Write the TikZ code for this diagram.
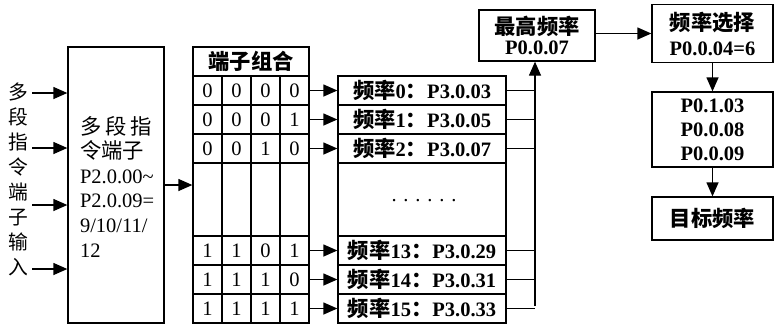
\documentclass[tikz,border=0pt]{standalone}
\usepackage{fontspec}
\setmainfont{Liberation Serif}
\newfontfamily\cjk[Scale=1.04]{Noto Sans CJK SC}
\usetikzlibrary{arrows.meta}
\newcommand{\zh}[1]{{\cjk #1}}
\begin{document}
\begin{tikzpicture}[x=1pt,y=-1pt,line width=1.3pt,
  arr/.style={-{Triangle[length=14pt,width=12pt]}},
  bx/.style={draw,line width=1.3pt,inner sep=0pt},
  bold/.style={font=\fontsize{20.5}{24}\selectfont\bfseries,align=center},
  reg/.style={font=\fontsize{20.5}{24}\selectfont},
  trow/.style={bx,minimum width=116pt,minimum height=29pt},
  frow/.style={bx,bold,minimum width=168pt,minimum height=29pt}]
\useasboundingbox (0,0) rectangle (775,325);
% left label and box
\node[inner sep=0pt,align=center,font=\fontsize{19}{25}\selectfont] (inlbl) at (18,179.5)
  {\zh{多}\\\zh{段}\\\zh{指}\\\zh{令}\\\zh{端}\\\zh{子}\\\zh{输}\\\zh{入}};
\node[bx,minimum width=96pt,minimum height=276pt] (lbox) at (116,185) {};
\node[inner sep=0pt,text width=74pt,align=left,font=\fontsize{20.5}{24.6}\selectfont] (ltext) at (117,186.5)
  {\makebox[72pt]{\zh{多}\hfill\zh{段}\hfill\zh{指}}\\\zh{令端子}\\P2.0.00\char`~\\P2.0.09=\\9/10/11/\\12};
\coordinate (in1) at (32,93);
\coordinate (in2) at (32,148);
\coordinate (in3) at (32,205);
\coordinate (in4) at (32,269);
\foreach \i in {1,2,3,4} \draw[arr] (in\i) -- (in\i -| lbox.west);
% terminal table
\node[trow,bold] (thead) at (251,61.5) {\zh{端子组合}};
\node[trow] (r0) at (251,90.5) {};
\node[trow] (r1) at (251,119.5) {};
\node[trow] (r2) at (251,148.5) {};
\node[trow,minimum height=73pt] (rb) at (251,199.5) {};
\node[trow] (r13) at (251,250.5) {};
\node[trow] (r14) at (251,279.5) {};
\node[trow] (r15) at (251,308.5) {};
\foreach \x in {222,251,280} \draw (\x,76) -- (\x,323);
\foreach \r/\y/\a/\b/\c/\d in {r0/90.5/0/0/0/0, r1/119.5/0/0/0/1, r2/148.5/0/0/1/0, r13/250.5/1/1/0/1, r14/279.5/1/1/1/0, r15/308.5/1/1/1/1}{
  \node[reg,inner sep=0pt] (\r a) at (207.5,\y) {\a};
  \node[reg,inner sep=0pt] (\r b) at (236.5,\y) {\b};
  \node[reg,inner sep=0pt] (\r c) at (265.5,\y) {\c};
  \node[reg,inner sep=0pt] (\r d) at (294.5,\y) {\d};
}
\draw[arr] (lbox.east) -- (lbox.east -| rb.west);
% frequency table
\node[frow] (f0) at (422,90.5) {\zh{频率}0\zh{：}P3.0.03};
\node[frow] (f1) at (422,119.5) {\zh{频率}1\zh{：}P3.0.05};
\node[frow] (f2) at (422,148.5) {\zh{频率}2\zh{：}P3.0.07};
\node[frow,minimum height=73pt] (fb) at (422,199.5) {};
\node[reg,inner sep=0pt] (dots) at (424,201) {.\,\,.\,\,.\,\,.\,\,.\,\,.};
\node[frow] (f13) at (422,250.5) {\zh{频率}13\zh{：}P3.0.29};
\node[frow] (f14) at (422,279.5) {\zh{频率}14\zh{：}P3.0.31};
\node[frow] (f15) at (422,308.5) {\zh{频率}15\zh{：}P3.0.33};
\foreach \r in {0,1,2,13,14,15} \draw[arr] (r\r.east) -- (f\r.west);
% right side boxes
\node[bx,bold,font=\fontsize{20.5}{20}\selectfont\bfseries,minimum width=116pt,minimum height=51pt] (maxf) at (537,35.5) {\zh{最高频率}\\P0.0.07};
\node[bx,bold,font=\fontsize{20.5}{25}\selectfont\bfseries,minimum width=121pt,minimum height=58pt] (fsel) at (712.5,33.5) {\zh{频率选择}\\P0.0.04=6};
\node[bx,bold,minimum width=121pt,minimum height=75pt] (pbox) at (712.5,129.5) {P0.1.03\\P0.0.08\\P0.0.09};
\node[bx,bold,minimum width=121pt,minimum height=43pt] (tgt) at (712.5,218.5) {\zh{目标频率}};
% collector
\coordinate (bus) at (535,306);
\foreach \r in {0,1,2,13,14,15} \draw (f\r.east) -- (f\r.east -| bus);
\draw[arr] (bus) -- (bus |- maxf.south);
\draw[arr] (maxf.east |- fsel.west) -- (fsel.west);
\draw[arr] (fsel.south) -- (pbox.north);
\draw[arr] (pbox.south) -- (tgt.north);
\end{tikzpicture}
\end{document}
